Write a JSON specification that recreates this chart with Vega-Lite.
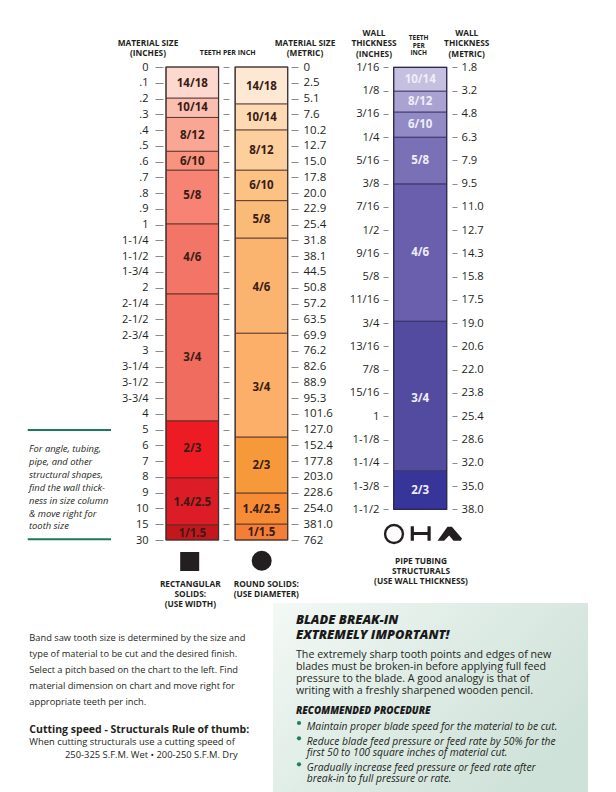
{
"$schema":"https://vega.github.io/schema/vega-lite/v6.json",
"width":616,"height":792,"padding":0,"autosize":"none",
"background":"white",
"config":{"view":{"stroke":null},"font":"Open Sans","text":{"font":"Open Sans"},
"axis":{"title":null,"domain":false,"grid":false,"labelFont":"Open Sans","labelFontSize":11,"labelColor":"#231f20","tickColor":"#8a8a8a","tickWidth":1,"labelOverlap":false,"labelBound":false,"labelFlush":false}},
"datasets":{
"solids":[
{"column":"Rectangular","key":"R 14/18","teeth":"14/18","start":0,"end":1.98,"labelRow":1.08},
{"column":"Rectangular","key":"R 10/14","teeth":"10/14","start":1.98,"end":3.2,"labelRow":2.6},
{"column":"Rectangular","key":"R 8/12","teeth":"8/12","start":3.2,"end":5.35,"labelRow":4.36},
{"column":"Rectangular","key":"R 6/10","teeth":"6/10","start":5.35,"end":6.55,"labelRow":6.03},
{"column":"Rectangular","key":"R 5/8","teeth":"5/8","start":6.55,"end":9.96,"labelRow":8.16},
{"column":"Rectangular","key":"R 4/6","teeth":"4/6","start":9.96,"end":14.4,"labelRow":12.13},
{"column":"Rectangular","key":"R 3/4","teeth":"3/4","start":14.4,"end":22.45,"labelRow":18.48},
{"column":"Rectangular","key":"R 2/3","teeth":"2/3","start":22.45,"end":26.07,"labelRow":24.25},
{"column":"Rectangular","key":"R 1.4/2.5","teeth":"1.4/2.5","start":26.07,"end":29.04,"labelRow":27.67},
{"column":"Rectangular","key":"R 1/1.5","teeth":"1/1.5","start":29.04,"end":30,"labelRow":29.6},
{"column":"Round","key":"C 14/18","teeth":"14/18","start":0,"end":2.35,"labelRow":1.29},
{"column":"Round","key":"C 10/14","teeth":"10/14","start":2.35,"end":4.0,"labelRow":3.23},
{"column":"Round","key":"C 8/12","teeth":"8/12","start":4.0,"end":6.55,"labelRow":5.33},
{"column":"Round","key":"C 6/10","teeth":"6/10","start":6.55,"end":8.48,"labelRow":7.55},
{"column":"Round","key":"C 5/8","teeth":"5/8","start":8.48,"end":10.86,"labelRow":9.7},
{"column":"Round","key":"C 4/6","teeth":"4/6","start":10.86,"end":16.89,"labelRow":14.0},
{"column":"Round","key":"C 3/4","teeth":"3/4","start":16.89,"end":23.48,"labelRow":20.34},
{"column":"Round","key":"C 2/3","teeth":"2/3","start":23.48,"end":27.03,"labelRow":25.3},
{"column":"Round","key":"C 1.4/2.5","teeth":"1.4/2.5","start":27.03,"end":29.0,"labelRow":28.1},
{"column":"Round","key":"C 1/1.5","teeth":"1/1.5","start":29.0,"end":30,"labelRow":29.54}
],
"pipe":[
{"column":"Pipe","teeth":"10/14","start":0,"end":1.03,"labelRow":0.56},
{"column":"Pipe","teeth":"8/12","start":1.03,"end":1.93,"labelRow":1.5},
{"column":"Pipe","teeth":"6/10","start":1.93,"end":3.01,"labelRow":2.48},
{"column":"Pipe","teeth":"5/8","start":3.01,"end":5.02,"labelRow":4.04},
{"column":"Pipe","teeth":"4/6","start":5.02,"end":10.92,"labelRow":7.97},
{"column":"Pipe","teeth":"3/4","start":10.92,"end":17.36,"labelRow":14.25},
{"column":"Pipe","teeth":"2/3","start":17.36,"end":19,"labelRow":18.2}
],
"frames":[{"column":"Rectangular","start":0,"end":30},{"column":"Round","start":0,"end":30}],
"pipeFrame":[{"column":"Pipe","start":0,"end":19}]
},
"layer":[
{"data":{"values":[{"panel":"Blade break-in"}]},
 "mark":{"type":"rect","fill":{"gradient":"linear","x1":0,"y1":0,"x2":1,"y2":0.6,"stops":[{"offset":0,"color":"#f4f9f6"},{"offset":0.5,"color":"#dfece6"},{"offset":1,"color":"#cfe2d9"}]}},
 "encoding":{"x":{"value":273},"x2":{"value":588},"y":{"value":603},"y2":{"value":792}}},

{"data":{"name":"solids"},"mark":{"type":"rect","stroke":"#4a2a22","strokeWidth":0.8},
 "encoding":{
  "x":{"field":"column","type":"nominal","scale":{"type":"band","domain":["Rectangular","Round"],"range":[166,287.7],"paddingInner":0.24,"paddingOuter":0},"axis":null},
  "y":{"field":"start","type":"quantitative","scale":{"domain":[0,30],"range":[67,540],"nice":false,"zero":false},
   "axis":{"orient":"left","offset":-163,"tickSize":8,"labelPadding":7,"labelAlign":"right","values":[0,1,2,3,4,5,6,7,8,9,10,11,12,13,14,15,16,17,18,19,20,21,22,23,24,25,26,27,28,29,30],
   "labelExpr":"['0','.1','.2','.3','.4','.5','.6','.7','.8','.9','1','1-1/4','1-1/2','1-3/4','2','2-1/4','2-1/2','2-3/4','3','3-1/4','3-1/2','3-3/4','4','5','6','7','8','9','10','15','30'][datum.value]"}},
  "y2":{"field":"end"},
  "color":{"field":"key","type":"nominal","legend":null,"scale":{
   "domain":["R 14/18","R 10/14","R 8/12","R 6/10","R 5/8","R 4/6","R 3/4","R 2/3","R 1.4/2.5","R 1/1.5","C 14/18","C 10/14","C 8/12","C 6/10","C 5/8","C 4/6","C 3/4","C 2/3","C 1.4/2.5","C 1/1.5"],
   "range":["#fcd8cf","#fbbfb2","#f9a794","#f8937f","#f68373","#f37567","#f06c5e","#ed1c24","#dc1c26","#c3161d","#fde9d3","#fddab4","#fdcf9c","#fcc284","#fbbb78","#fbb470","#fbaf68","#f6993b","#f68c35","#f57e37"]}}}},

{"data":{"name":"frames"},"mark":{"type":"rect","fill":"transparent","stroke":"#3a3230","strokeWidth":1.2},
 "encoding":{
  "x":{"field":"column","type":"nominal","scale":{"type":"band","domain":["Rectangular","Round"],"range":[166,287.7],"paddingInner":0.24,"paddingOuter":0},"axis":null},
  "y":{"field":"start","type":"quantitative","scale":{"domain":[0,30],"range":[67,540],"nice":false,"zero":false},
   "axis":{"orient":"left","offset":-229,"tickSize":6,"labels":false,"values":[0,1,2,3,4,5,6,7,8,9,10,11,12,13,14,15,16,17,18,19,20,21,22,23,24,25,26,27,28,29,30]}},
  "y2":{"field":"end"}}},

{"data":{"name":"solids"},"mark":{"type":"text","font":"Open Sans","fontWeight":"bold","fontSize":11.5,"color":"#3a1c14","baseline":"middle","align":"center"},
 "encoding":{
  "x":{"field":"column","type":"nominal","scale":{"type":"band","domain":["Rectangular","Round"],"range":[166,287.7],"paddingInner":0.24,"paddingOuter":0},"axis":null},
  "y":{"field":"labelRow","type":"quantitative","scale":{"domain":[0,30],"range":[67,540],"nice":false,"zero":false},
   "axis":{"orient":"right","offset":-325,"tickSize":7,"labelPadding":5,"labelAlign":"left","labelFontSize":11.5,"values":[0,1,2,3,4,5,6,7,8,9,10,11,12,13,14,15,16,17,18,19,20,21,22,23,24,25,26,27,28,29,30],
   "labelExpr":"['0','2.5','5.1','7.6','10.2','12.7','15.0','17.8','20.0','22.9','25.4','31.8','38.1','44.5','50.8','57.2','63.5','69.9','76.2','82.6','88.9','95.3','101.6','127.0','152.4','177.8','203.0','228.6','254.0','381.0','762'][datum.value]"}},
  "text":{"field":"teeth"}}},

{"data":{"name":"pipe"},"mark":{"type":"rect","stroke":"#2d2a5c","strokeWidth":0.8},
 "encoding":{
  "x":{"field":"column","type":"nominal","scale":{"type":"band","domain":["Pipe"],"range":[393.7,446.7],"paddingInner":0,"paddingOuter":0},"axis":null},
  "y":{"field":"start","type":"quantitative","scale":{"domain":[0,19],"range":[67.3,509.3],"nice":false,"zero":false},
   "axis":{"orient":"left","offset":-388,"tickSize":5,"labelPadding":4,"labelAlign":"right","labelFontSize":11.2,"values":[0,1,2,3,4,5,6,7,8,9,10,11,12,13,14,15,16,17,18,19],
   "labelExpr":"['1/16','1/8','3/16','1/4','5/16','3/8','7/16','1/2','9/16','5/8','11/16','3/4','13/16','7/8','15/16','1','1-1/8','1-1/4','1-3/8','1-1/2'][datum.value]"}},
  "y2":{"field":"end"},
  "color":{"field":"teeth","type":"nominal","legend":null,"scale":{"domain":["10/14","8/12","6/10","5/8","4/6","3/4","2/3"],"range":["#c6c0e0","#aaa3d2","#918ac5","#7a70b6","#6a5fac","#534b9f","#37349a"]}}}},

{"data":{"name":"pipeFrame"},"mark":{"type":"rect","fill":"transparent","stroke":"#2c2a4a","strokeWidth":1.2},
 "encoding":{
  "x":{"field":"column","type":"nominal","scale":{"type":"band","domain":["Pipe"],"range":[393.7,446.7],"paddingInner":0,"paddingOuter":0},"axis":null},
  "y":{"field":"start","type":"quantitative","scale":{"domain":[0,19],"range":[67.3,509.3],"nice":false,"zero":false},"axis":null},
  "y2":{"field":"end"}}},

{"data":{"name":"pipe"},"mark":{"type":"text","font":"Open Sans","fontWeight":"bold","fontSize":11.5,"color":"#efedf7","baseline":"middle","align":"center"},
 "encoding":{
  "x":{"field":"column","type":"nominal","scale":{"type":"band","domain":["Pipe"],"range":[393.7,446.7],"paddingInner":0,"paddingOuter":0},"axis":null},
  "y":{"field":"labelRow","type":"quantitative","scale":{"domain":[0,19],"range":[67.3,509.3],"nice":false,"zero":false},
   "axis":{"orient":"right","offset":-164,"tickSize":5,"labelPadding":4,"labelAlign":"left","labelFontSize":11.2,"values":[0,1,2,3,4,5,6,7,8,9,10,11,12,13,14,15,16,17,18,19],
   "labelExpr":"['1.8','3.2','4.8','6.3','7.9','9.5','11.0','12.7','14.3','15.8','17.5','19.0','20.6','22.0','23.8','25.4','28.6','32.0','35.0','38.0'][datum.value]"}},
  "text":{"field":"teeth"}}},

{"data":{"values":[{"symbol":"Rectangular solids"}]},"mark":{"type":"point","shape":"square","filled":true,"color":"#231f20","opacity":1,"size":361},"encoding":{"x":{"value":189.7},"y":{"value":561.5}}},
{"data":{"values":[{"symbol":"Round solids"}]},"mark":{"type":"point","shape":"circle","filled":true,"color":"#231f20","opacity":1,"size":400},"encoding":{"x":{"value":261.7},"y":{"value":560.7}}},
{"data":{"values":[{"symbol":"Pipe"}]},"mark":{"type":"point","shape":"circle","filled":false,"stroke":"#231f20","strokeWidth":2.4,"opacity":1,"size":320},"encoding":{"x":{"value":394},"y":{"value":534}}},
{"data":{"values":[{"symbol":"Tubing"}]},"mark":{"type":"point","shape":"M-1 -0.73H-0.68V-0.16H0.68V-0.73H1V0.73H0.68V0.16H-0.68V0.73H-1Z","filled":true,"color":"#231f20","opacity":1,"size":400},"encoding":{"x":{"value":420.7},"y":{"value":533.5}}},
{"data":{"values":[{"symbol":"Structurals"}]},"mark":{"type":"point","shape":"M-0.96 0.53L-0.16 -0.59L0.19 -0.59L1 0.35L0.9 0.53L0.32 0.53L-0.03 0.11L-0.43 0.53Z","filled":true,"color":"#231f20","opacity":1,"size":625},"encoding":{"x":{"value":449.5},"y":{"value":534}}},

{"data":{"values":[{"rule":"top"},{"rule":"bottom"}]},"mark":{"type":"rule","color":"#1a7a55","strokeWidth":2},
 "encoding":{"x":{"value":27.7},"x2":{"value":111},"y":{"field":"rule","type":"nominal","scale":{"type":"point","padding":0,"domain":["top","bottom"],"range":[430,539.3]},"axis":null}}},

{"data":{"values":[{"note":"MATERIAL SIZE\n(INCHES)"}]},"mark":{"type":"text","align":"center","font":"Open Sans","fontWeight":"bold","fontSize":8.3,"lineBreak":"\n","lineHeight":10,"color":"#231f20"},"encoding":{"x":{"value":148},"y":{"value":44},"text":{"field":"note"}}},
{"data":{"values":[{"note":"TEETH PER INCH"}]},"mark":{"type":"text","align":"center","font":"Open Sans","fontWeight":"bold","fontSize":7,"color":"#231f20"},"encoding":{"x":{"value":227.7},"y":{"value":52.5},"text":{"field":"note"}}},
{"data":{"values":[{"note":"MATERIAL SIZE\n(METRIC)"}]},"mark":{"type":"text","align":"center","font":"Open Sans","fontWeight":"bold","fontSize":8.3,"lineBreak":"\n","lineHeight":10,"color":"#231f20"},"encoding":{"x":{"value":305},"y":{"value":44},"text":{"field":"note"}}},
{"data":{"values":[{"note":"WALL\nTHICKNESS\n(INCHES)"}]},"mark":{"type":"text","align":"center","font":"Open Sans","fontWeight":"bold","fontSize":8.3,"lineBreak":"\n","lineHeight":10.4,"color":"#231f20"},"encoding":{"x":{"value":374},"y":{"value":34},"text":{"field":"note"}}},
{"data":{"values":[{"note":"TEETH\nPER\nINCH"}]},"mark":{"type":"text","align":"center","font":"Open Sans","fontWeight":"bold","fontSize":6.5,"lineBreak":"\n","lineHeight":7.5,"color":"#231f20"},"encoding":{"x":{"value":418.7},"y":{"value":38},"text":{"field":"note"}}},
{"data":{"values":[{"note":"WALL\nTHICKNESS\n(METRIC)"}]},"mark":{"type":"text","align":"center","font":"Open Sans","fontWeight":"bold","fontSize":8.3,"lineBreak":"\n","lineHeight":10.4,"color":"#231f20"},"encoding":{"x":{"value":466.7},"y":{"value":34},"text":{"field":"note"}}},
{"data":{"values":[{"note":"RECTANGULAR\nSOLIDS:\n(USE WIDTH)"}]},"mark":{"type":"text","align":"center","font":"Open Sans","fontWeight":"bold","fontSize":8.3,"lineBreak":"\n","lineHeight":10,"color":"#231f20"},"encoding":{"x":{"value":190.3},"y":{"value":584.5},"text":{"field":"note"}}},
{"data":{"values":[{"note":"ROUND SOLIDS:\n(USE DIAMETER)"}]},"mark":{"type":"text","align":"center","font":"Open Sans","fontWeight":"bold","fontSize":8.3,"lineBreak":"\n","lineHeight":10,"color":"#231f20"},"encoding":{"x":{"value":266.3},"y":{"value":585},"text":{"field":"note"}}},
{"data":{"values":[{"note":"PIPE TUBING\nSTRUCTURALS\n(USE WALL THICKNESS)"}]},"mark":{"type":"text","align":"center","font":"Open Sans","fontWeight":"bold","fontSize":8.3,"lineBreak":"\n","lineHeight":10,"color":"#231f20"},"encoding":{"x":{"value":421},"y":{"value":562},"text":{"field":"note"}}},

{"data":{"values":[{"note":"For angle, tubing,\npipe, and other\nstructural shapes,\nfind the wall thick-\nness in size column\n& move right for\ntooth size"}]},"mark":{"type":"text","align":"left","font":"Open Sans","fontStyle":"italic","fontSize":9.4,"lineBreak":"\n","lineHeight":12.9,"color":"#231f20"},"encoding":{"x":{"value":29},"y":{"value":449},"text":{"field":"note"}}},
{"data":{"values":[{"note":"Band saw tooth size is determined by the size and\ntype of material to be cut and the desired finish.\nSelect a pitch based on the chart to the left. Find\nmaterial dimension on chart and move right for\nappropriate teeth per inch."}]},"mark":{"type":"text","align":"left","font":"Open Sans","fontSize":9.3,"lineBreak":"\n","lineHeight":16,"color":"#231f20"},"encoding":{"x":{"value":29.3},"y":{"value":637.5},"text":{"field":"note"}}},
{"data":{"values":[{"note":"Cutting speed - Structurals Rule of thumb:"}]},"mark":{"type":"text","align":"left","font":"Open Sans","fontWeight":"bold","fontSize":10.5,"color":"#231f20"},"encoding":{"x":{"value":29.3},"y":{"value":729.5},"text":{"field":"note"}}},
{"data":{"values":[{"note":"When cutting structurals use a cutting speed of"}]},"mark":{"type":"text","align":"left","font":"Open Sans","fontSize":9.4,"color":"#231f20"},"encoding":{"x":{"value":29.3},"y":{"value":742.2},"text":{"field":"note"}}},
{"data":{"values":[{"note":"250-325 S.F.M. Wet  •  200-250 S.F.M. Dry"}]},"mark":{"type":"text","align":"left","font":"Open Sans","fontSize":9.4,"color":"#231f20"},"encoding":{"x":{"value":65},"y":{"value":755.2},"text":{"field":"note"}}},

{"data":{"values":[{"note":"BLADE BREAK-IN\nEXTREMELY IMPORTANT!"}]},"mark":{"type":"text","align":"left","font":"Open Sans","fontStyle":"italic","fontWeight":800,"fontSize":12.8,"lineBreak":"\n","lineHeight":14.5,"color":"#1a1a1a"},"encoding":{"x":{"value":296},"y":{"value":620},"text":{"field":"note"}}},
{"data":{"values":[{"note":"The extremely sharp tooth points and edges of new\nblades must be broken-in before applying full feed\npressure to the blade. A good analogy is that of\nwriting with a freshly sharpened wooden pencil."}]},"mark":{"type":"text","align":"left","font":"Open Sans","fontSize":10.65,"lineBreak":"\n","lineHeight":12.2,"color":"#231f20"},"encoding":{"x":{"value":296},"y":{"value":654.5},"text":{"field":"note"}}},
{"data":{"values":[{"note":"RECOMMENDED PROCEDURE"}]},"mark":{"type":"text","align":"left","font":"Open Sans","fontStyle":"italic","fontWeight":800,"fontSize":9.8,"color":"#1a1a1a"},"encoding":{"x":{"value":296},"y":{"value":711},"text":{"field":"note"}}},
{"data":{"values":[{"bullet":"Maintain"}]},"mark":{"type":"point","shape":"circle","filled":true,"color":"#1f7f55","opacity":1,"size":18},"encoding":{"x":{"value":299},"y":{"value":723}}},
{"data":{"values":[{"bullet":"Reduce"}]},"mark":{"type":"point","shape":"circle","filled":true,"color":"#1f7f55","opacity":1,"size":18},"encoding":{"x":{"value":299},"y":{"value":738.3}}},
{"data":{"values":[{"bullet":"Gradually"}]},"mark":{"type":"point","shape":"circle","filled":true,"color":"#1f7f55","opacity":1,"size":18},"encoding":{"x":{"value":299},"y":{"value":764.3}}},
{"data":{"values":[{"note":"Maintain proper blade speed for the material to be cut."}]},"mark":{"type":"text","align":"left","font":"Open Sans","fontStyle":"italic","fontSize":10.3,"color":"#231f20"},"encoding":{"x":{"value":306.7},"y":{"value":726.5},"text":{"field":"note"}}},
{"data":{"values":[{"note":"Reduce blade feed pressure or feed rate by 50% for the\nfirst 50 to 100 square inches of material cut."}]},"mark":{"type":"text","align":"left","font":"Open Sans","fontStyle":"italic","fontSize":10.3,"lineBreak":"\n","lineHeight":11.4,"color":"#231f20"},"encoding":{"x":{"value":306.7},"y":{"value":741.8},"text":{"field":"note"}}},
{"data":{"values":[{"note":"Gradually increase feed pressure or feed rate after\nbreak-in to full pressure or rate."}]},"mark":{"type":"text","align":"left","font":"Open Sans","fontStyle":"italic","fontSize":10.3,"lineBreak":"\n","lineHeight":11.7,"color":"#231f20"},"encoding":{"x":{"value":306.7},"y":{"value":767.8},"text":{"field":"note"}}}
],
"resolve":{"scale":{"x":"independent","y":"independent","color":"independent"},"axis":{"x":"independent","y":"independent"}}
}
